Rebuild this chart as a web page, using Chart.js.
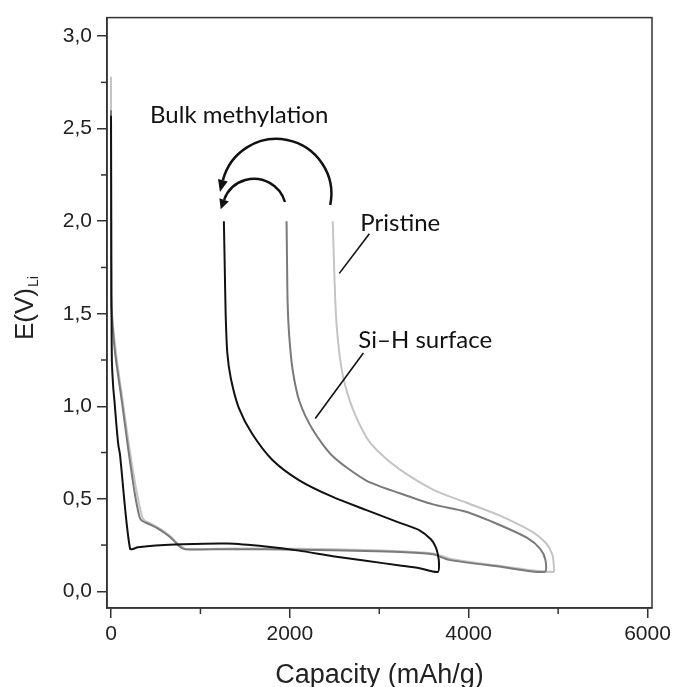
<!DOCTYPE html>
<html>
<head>
<meta charset="utf-8">
<script src="https://cdn.jsdelivr.net/npm/chart.js@4.4.1/dist/chart.umd.min.js"></script>
<style>
  html, body { margin: 0; padding: 0; background: #fff; }
  canvas { display: block; }
</style>
</head>
<body>
<canvas id="chart" width="676" height="687"></canvas>
<script>
// capacity (mAh/g) and potential (V vs Li), discharge then charge
const bulkCap = [0, 2, 4, 6, 10, 25, 40, 60, 82, 100, 213, 300, 500, 800, 1300, 1730, 2100, 2480, 2850, 3230, 3450, 3655,
  3668, 3655, 3630, 3580, 3450, 3230, 2850, 2480, 2105, 1805, 1580, 1430, 1340, 1300, 1282, 1272, 1262];
const bulkV = [2.57, 2.2, 1.8, 1.5, 1.24, 1.1, 1.02, 0.9, 0.79, 0.74, 0.23, 0.238, 0.248, 0.255, 0.258, 0.242, 0.22, 0.19, 0.165, 0.14, 0.125, 0.105,
  0.15, 0.2, 0.24, 0.28, 0.33, 0.37, 0.44, 0.51, 0.6, 0.71, 0.85, 0.99, 1.15, 1.29, 1.5, 1.75, 2.0];

const sihCap = [0, 0, 0, 8, 45, 120, 195, 265, 320, 350, 440, 520, 600, 655, 710, 760, 830, 1350, 2100, 2850, 3230, 3600, 3780, 4340, 4850,
  4858, 4800, 4650, 4340, 3970, 3600, 3230, 2850, 2480, 2260, 2105, 2030, 1993, 1975, 1968, 1963];
const sihV = [2.6, 2.0, 1.6, 1.5, 1.29, 1.03, 0.76, 0.53, 0.4, 0.38, 0.36, 0.34, 0.315, 0.295, 0.27, 0.245, 0.228, 0.228, 0.225, 0.218, 0.212, 0.2, 0.17, 0.134, 0.105,
  0.17, 0.23, 0.29, 0.36, 0.43, 0.47, 0.53, 0.6, 0.73, 0.87, 1.03, 1.2, 1.38, 1.56, 1.8, 2.0];

const pristCap = [0, 0, 0, 12, 55, 130, 210, 290, 350, 385, 460, 540, 610, 670, 720, 770, 840, 1350, 2100, 2850, 3230, 3600, 3800, 4340, 4945,
  4950, 4935, 4866, 4716, 4343, 3970, 3600, 3224, 3000, 2860, 2700, 2600, 2550, 2515, 2495, 2480];
const pristV = [2.78, 2.2, 1.6, 1.49, 1.29, 1.03, 0.76, 0.53, 0.4, 0.38, 0.362, 0.34, 0.318, 0.295, 0.27, 0.248, 0.228, 0.232, 0.23, 0.224, 0.217, 0.205, 0.175, 0.138, 0.105,
  0.15, 0.2, 0.26, 0.32, 0.41, 0.48, 0.55, 0.66, 0.75, 0.83, 0.99, 1.15, 1.3, 1.5, 1.75, 2.0];

const xTickVals = [0, 2000, 4000, 6000];
const xMinorVals = [1000, 3000, 5000];
const yTickVals = [0, 0.5, 1.0, 1.5, 2.0, 2.5, 3.0];
const yMinorVals = [0.25, 0.75, 1.25, 1.75, 2.25, 2.75];

function pts(xs, ys) {
  return xs.map((v, i) => ({ x: v, y: ys[i] }));
}

const axisFont = { family: 'Liberation Sans, Arial, sans-serif', size: 21 };
const noteFont = '24px Lato, "Open Sans", sans-serif';

function line(ctx, x1, y1, x2, y2) {
  ctx.beginPath();
  ctx.moveTo(x1, y1);
  ctx.lineTo(x2, y2);
  ctx.stroke();
}

// curved arrow: circle centre in data units, radius in capacity units
function arcArrow(ctx, x, y, cx, cy, r, a1, a2, head) {
  const px = x.getPixelForValue(cx), py = y.getPixelForValue(cy);
  const rp = x.getPixelForValue(cx + r) - px;
  ctx.beginPath();
  ctx.arc(px, py, rp, a1, a2, true);
  ctx.stroke();
  const bx = px + rp * Math.cos(a2), by = py + rp * Math.sin(a2);
  const dx = Math.sin(a2), dy = -Math.cos(a2);
  const tx = bx + dx * head, ty = by + dy * head;
  ctx.beginPath();
  ctx.moveTo(tx, ty);
  ctx.lineTo(bx - dy * 5, by + dx * 5);
  ctx.lineTo(bx + dy * 5, by - dx * 5);
  ctx.closePath();
  ctx.fill();
}

const extras = {
  id: 'extras',
  afterDraw(chart) {
    const { ctx, chartArea: a, scales: { x, y } } = chart;
    ctx.save();
    ctx.strokeStyle = '#333';
    ctx.lineWidth = 1.5;
    ctx.strokeRect(a.left, a.top, a.right - a.left, a.bottom - a.top);
    xMinorVals.forEach(v => {
      const p = x.getPixelForValue(v);
      line(ctx, p, a.bottom, p, a.bottom + 6);
    });
    yMinorVals.forEach(v => {
      const p = y.getPixelForValue(v);
      line(ctx, a.left, p, a.left - 6, p);
    });

    // axis titles
    ctx.fillStyle = '#222';
    ctx.font = '27px Liberation Sans, Arial, sans-serif';
    ctx.textAlign = 'center';
    ctx.textBaseline = 'alphabetic';
    ctx.fillText('Capacity (mAh/g)', (a.left + a.right) / 2, 683);

    ctx.save();
    ctx.translate(33, 340);
    ctx.rotate(-Math.PI / 2);
    ctx.textAlign = 'left';
    ctx.font = '26px Liberation Sans, Arial, sans-serif';
    ctx.fillText('E(V)', 0, 0);
    const w = ctx.measureText('E(V)').width;
    ctx.font = '14px Liberation Sans, Arial, sans-serif';
    ctx.fillText('Li', w + 1, 5);
    ctx.restore();

    // annotations
    ctx.fillStyle = '#111';
    ctx.strokeStyle = '#111';
    ctx.font = noteFont;
    ctx.textAlign = 'left';
    ctx.fillText('Bulk methylation', x.getPixelForValue(437), y.getPixelForValue(2.528));
    ctx.fillText('Pristine', x.getPixelForValue(2788), y.getPixelForValue(1.948));
    ctx.fillText('Si\u2013H surface', x.getPixelForValue(2766), y.getPixelForValue(1.315));

    ctx.lineWidth = 1.6;
    line(ctx, x.getPixelForValue(2889), y.getPixelForValue(1.932), x.getPixelForValue(2553), y.getPixelForValue(1.718));
    line(ctx, x.getPixelForValue(2822), y.getPixelForValue(1.288), x.getPixelForValue(2284), y.getPixelForValue(0.934));

    ctx.lineWidth = 2.5;
    arcArrow(ctx, x, y, 1848, 2.147, 616, 0.2, -Math.PI + 0.25, 12);
    arcArrow(ctx, x, y, 1601, 2.056, 358, -0.28, -Math.PI + 0.35, 10);
    ctx.restore();
  }
};

const lineStyle = { showLine: true, pointRadius: 0, borderWidth: 2, tension: 0.25, fill: false };

new Chart(document.getElementById('chart'), {
  type: 'scatter',
  data: {
    datasets: [
      Object.assign({ label: 'Bulk methylation', data: pts(bulkCap, bulkV), borderColor: '#111111', order: 1 }, lineStyle),
      Object.assign({ label: 'Si\u2013H surface', data: pts(sihCap, sihV), borderColor: '#7a7a7a', order: 2 }, lineStyle),
      Object.assign({ label: 'Pristine', data: pts(pristCap, pristV), borderColor: '#c4c4c4', order: 3 }, lineStyle)
    ]
  },
  options: {
    responsive: false,
    animation: false,
    devicePixelRatio: 1,
    layout: { padding: { top: 15, right: 24, left: 0, bottom: 0 } },
    plugins: { legend: { display: false }, tooltip: { enabled: false } },
    scales: {
      x: {
        type: 'linear',
        min: -45,
        max: 6050,
        afterBuildTicks: s => { s.ticks = xTickVals.map(v => ({ value: v })); },
        afterFit: s => { s.height = 79; },
        grid: { drawOnChartArea: false, drawTicks: true, tickLength: 10, color: '#333', lineWidth: 1.5 },
        border: { color: '#333', width: 1.5 },
        ticks: { font: axisFont, color: '#222', padding: 4, maxRotation: 0, callback: v => String(v) }
      },
      y: {
        type: 'linear',
        min: -0.09,
        max: 3.1,
        afterBuildTicks: s => { s.ticks = yTickVals.map(v => ({ value: v })); },
        afterFit: s => { s.width = 107; },
        grid: { drawOnChartArea: false, drawTicks: true, tickLength: 10, color: '#333', lineWidth: 1.5 },
        border: { color: '#333', width: 1.5 },
        ticks: { font: axisFont, color: '#222', padding: 5, callback: v => v.toFixed(1).replace('.', ',') }
      }
    }
  },
  plugins: [extras]
});
</script>
</body>
</html>
